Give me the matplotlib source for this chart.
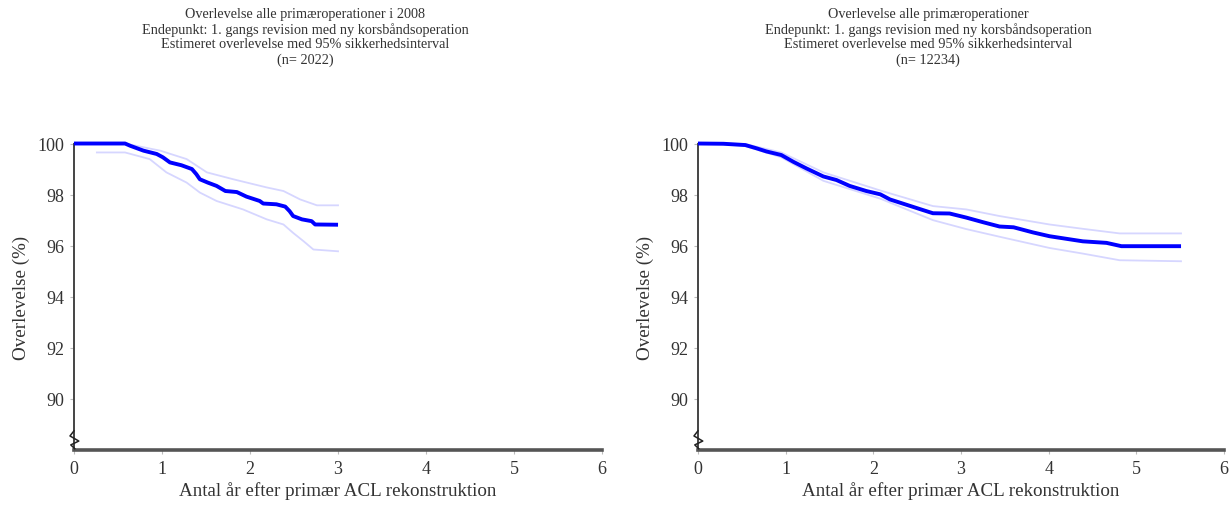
import numpy as np
import matplotlib
matplotlib.use("Agg")
from matplotlib import pyplot as plt
from matplotlib import transforms

# Left panel: primary operations 2008 (n=2022)
t_2008 = [0.0, 0.58, 0.64, 0.79, 0.94, 1.01, 1.09, 1.22, 1.34, 1.39, 1.43, 1.52,
          1.62, 1.72, 1.85, 1.96, 2.11, 2.15, 2.30, 2.40, 2.45, 2.49, 2.59, 2.70,
          2.74, 3.0]
s_2008 = [100.0, 100.0, 99.91, 99.72, 99.59, 99.46, 99.26, 99.15, 99.0, 98.8, 98.6,
          98.47, 98.34, 98.14, 98.1, 97.92, 97.75, 97.65, 97.62, 97.53, 97.35,
          97.16, 97.03, 96.96, 96.83, 96.82]
t_2008_hi = [0.0, 0.58, 0.98, 1.28, 1.51, 1.81, 2.19, 2.38, 2.57, 2.76, 3.0]
s_2008_hi = [100.0, 100.0, 99.72, 99.39, 98.87, 98.6, 98.28, 98.14, 97.81, 97.58, 97.58]
t_2008_lo = [0.26, 0.58, 0.86, 1.05, 1.28, 1.43, 1.62, 1.92, 2.19, 2.38, 2.49,
             2.61, 2.72, 3.0]
s_2008_lo = [99.65, 99.65, 99.39, 98.87, 98.47, 98.08, 97.75, 97.42, 97.03, 96.83,
             96.5, 96.17, 95.85, 95.78]

# Right panel: all primary operations (n=12234)
t_all = [0.0, 0.29, 0.54, 0.67, 0.78, 0.95, 1.09, 1.24, 1.43, 1.58, 1.73, 1.92,
         2.08, 2.19, 2.38, 2.57, 2.68, 2.87, 3.06, 3.25, 3.44, 3.60, 3.82, 4.01,
         4.20, 4.39, 4.66, 4.83, 5.51]
s_all = [100.0, 99.99, 99.94, 99.81, 99.69, 99.55, 99.28, 99.02, 98.71, 98.57,
         98.34, 98.14, 98.01, 97.81, 97.6, 97.39, 97.27, 97.26, 97.1, 96.92,
         96.75, 96.72, 96.52, 96.37, 96.27, 96.17, 96.11, 95.98, 95.98]
t_all_hi = [0.0, 0.29, 0.54, 0.95, 1.43, 2.08, 2.68, 3.06, 3.44, 4.01, 4.39, 4.81, 5.51]
s_all_hi = [100.0, 100.0, 99.98, 99.65, 98.87, 98.16, 97.55, 97.42, 97.16, 96.83,
            96.66, 96.48, 96.48]
t_all_lo = [0.29, 0.54, 0.95, 1.43, 2.08, 2.68, 3.06, 3.44, 4.01, 4.39, 4.81, 5.51]
s_all_lo = [99.97, 99.9, 99.46, 98.54, 97.84, 97.0, 96.65, 96.35, 95.91, 95.69,
            95.43, 95.39]

titles = [
    "Overlevelse alle primæroperationer i 2008\n"
    "Endepunkt: 1. gangs revision med ny korsbåndsoperation\n"
    "Estimeret overlevelse med 95% sikkerhedsinterval\n(n= 2022)",
    "Overlevelse alle primæroperationer\n"
    "Endepunkt: 1. gangs revision med ny korsbåndsoperation\n"
    "Estimeret overlevelse med 95% sikkerhedsinterval\n(n= 12234)",
]
x_ticks = [0, 1, 2, 3, 4, 5, 6]
y_ticks = [90, 92, 94, 96, 98, 100]

plt.rcParams['font.family'] = ['Liberation Serif', 'DejaVu Serif']
txt_col = '#333333'

fig = plt.figure(figsize=(12.31, 5.06), dpi=100)
ax_pos = [[0.0601, 0.1087, 0.4290, 0.6057],
          [0.5670, 0.1087, 0.4273, 0.6057]]
title_x = [305 / 1231, 928 / 1231]
panels = [(t_2008, s_2008, t_2008_hi, s_2008_hi, t_2008_lo, s_2008_lo),
          (t_all, s_all, t_all_hi, s_all_hi, t_all_lo, s_all_lo)]

for k, (t, s, th, sh, tl, sl) in enumerate(panels):
    ax = fig.add_axes(ax_pos[k])
    ax.plot(th, sh, color='#d6d6ff', lw=1.3, clip_on=False, zorder=2)
    ax.plot(tl, sl, color='#d6d6ff', lw=1.3, clip_on=False, zorder=2)
    ax.plot(t, s, color='#0000ff', lw=2.8, clip_on=False, zorder=3,
            solid_capstyle='butt')

    ax.set_xlim(0, 6)
    ax.set_ylim(88, 100)
    ax.set_xticks(x_ticks)
    ax.set_yticks(y_ticks)
    ax.tick_params(axis='both', length=3, color='#bbbbbb', labelsize=13,
                   labelcolor=txt_col, pad=4)

    for sp in ['top', 'right']:
        ax.spines[sp].set_visible(False)
    ax.spines['left'].set_color('#444444')
    ax.spines['left'].set_linewidth(1.4)
    ax.spines['bottom'].set_color('#555555')
    ax.spines['bottom'].set_linewidth(2.6)

    # axis break mark on the y axis
    off = transforms.ScaledTranslation(-4 / 100, 0, fig.dpi_scale_trans)
    zx = np.array([0.0, -0.5, 0.6, -0.4, 0.1]) * 8 / 528 * 6
    zy = [88.75, 88.55, 88.35, 88.2, 88.05]
    ax.plot(zx + 4 / 528 * 6, zy, color='#222222', lw=1.1, clip_on=False,
            transform=ax.transData + off, zorder=4)

    ax.set_ylabel("Overlevelse (%)", fontsize=13.7, color=txt_col, labelpad=5)
    ax.set_xlabel("Antal år efter primær ACL rekonstruktion", fontsize=13.7,
                  color=txt_col, labelpad=3)
    fig.text(title_x[k], 1 - 8 / 506, titles[k], ha='center', va='top',
             fontsize=10.3, color=txt_col, linespacing=1.17)

plt.savefig('out.png', dpi=100)
